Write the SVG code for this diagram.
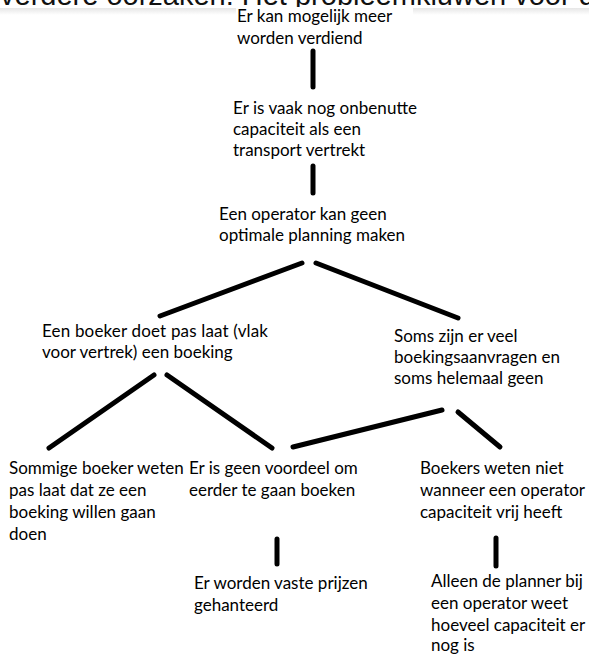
<svg xmlns="http://www.w3.org/2000/svg" width="589" height="654" viewBox="0 0 589 654">
<defs>
<linearGradient id="band" x1="0" y1="0" x2="0" y2="1">
<stop offset="0" stop-color="#e6e6e6"/>
<stop offset="1" stop-color="#ffffff"/>
</linearGradient>
</defs>
<style>
.t{font-family:Lato,"Liberation Sans",sans-serif;font-size:17px;fill:#000}
.h{font-family:"Liberation Sans",Arial,sans-serif;font-size:29px;fill:#111}
.c{stroke:#000;stroke-width:5;stroke-linecap:round;fill:none}
</style>
<rect x="0" y="0" width="589" height="654" fill="#fff"/>
<rect x="0" y="8" width="589" height="7" fill="url(#band)"/>
<text class="h" x="0" y="5">verdere oorzaken: Het probleemkluwen voor de</text>
<rect x="236" y="7" width="177" height="46" fill="#fff"/>
<g id="connectors">
<line class="c" x1="313" y1="51" x2="313" y2="87"/>
<line class="c" x1="313" y1="166" x2="313" y2="193"/>
<line class="c" x1="302" y1="263" x2="160" y2="316"/>
<line class="c" x1="316" y1="263" x2="458" y2="318"/>
<line class="c" x1="154" y1="375" x2="49" y2="448"/>
<line class="c" x1="167" y1="375" x2="272" y2="448"/>
<line class="c" x1="442" y1="410" x2="293" y2="447"/>
<line class="c" x1="458" y1="412" x2="500" y2="447"/>
<line class="c" x1="277" y1="539" x2="277" y2="564"/>
<line class="c" x1="496" y1="538" x2="496" y2="566"/>
</g>
<g id="n1"><text class="t" x="237" y="22">Er kan mogelijk meer</text><text class="t" x="237" y="44">worden verdiend</text></g>
<g id="n2"><text class="t" x="233" y="114" textLength="184">Er is vaak nog onbenutte</text><text class="t" x="233" y="135">capaciteit als een</text><text class="t" x="233" y="156">transport vertrekt</text></g>
<g id="n3"><text class="t" x="219" y="220">Een operator kan geen</text><text class="t" x="219" y="241">optimale planning maken</text></g>
<g id="n4"><text class="t" x="42" y="337" textLength="226">Een boeker doet pas laat (vlak</text><text class="t" x="42" y="358">voor vertrek) een boeking</text></g>
<g id="n5"><text class="t" x="394" y="342">Soms zijn er veel</text><text class="t" x="394" y="363">boekingsaanvragen en</text><text class="t" x="394" y="384">soms helemaal geen</text></g>
<g id="n6"><text class="t" x="9" y="474">Sommige boeker weten</text><text class="t" x="9" y="496">pas laat dat ze een</text><text class="t" x="9" y="518">boeking willen gaan</text><text class="t" x="9" y="540">doen</text></g>
<g id="n7"><text class="t" x="189" y="474">Er is geen voordeel om</text><text class="t" x="189" y="496">eerder te gaan boeken</text></g>
<g id="n8"><text class="t" x="420" y="474">Boekers weten niet</text><text class="t" x="420" y="496">wanneer een operator</text><text class="t" x="420" y="518">capaciteit vrij heeft</text></g>
<g id="n9"><text class="t" x="194" y="589">Er worden vaste prijzen</text><text class="t" x="194" y="611">gehanteerd</text></g>
<g id="n10"><text class="t" x="431" y="587">Alleen de planner bij</text><text class="t" x="431" y="609">een operator weet</text><text class="t" x="431" y="631">hoeveel capaciteit er</text><text class="t" x="431" y="651">nog is</text></g>
</svg>
